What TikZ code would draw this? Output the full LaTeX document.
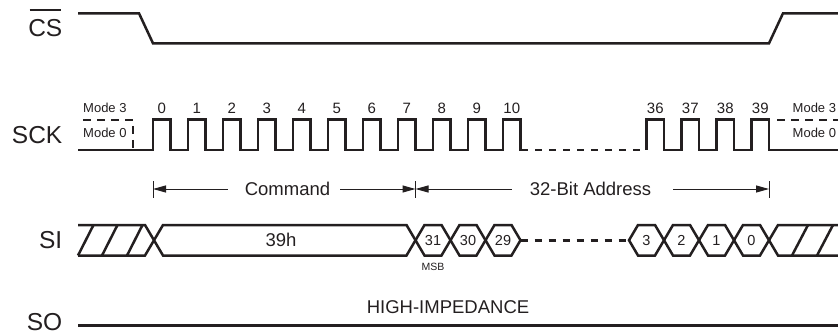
\documentclass[tikz,border=0pt]{standalone}
\usepackage{fontspec}
\setmainfont{Liberation Sans}
\usetikzlibrary{arrows.meta}
\definecolor{ink}{RGB}{35,31,32}
\begin{document}
\begin{tikzpicture}[x=1pt,y=-1pt,
  wave/.style={line width=2.5pt, draw=ink, line join=miter},
  dshw/.style={wave, dash pattern=on 7pt off 7pt},
  dshm/.style={wave, dash pattern=on 8pt off 6pt},
  sig/.style={font=\fontsize{24.5}{26}\selectfont, text=ink, inner sep=0pt, anchor=base east},
  num/.style={font=\fontsize{15}{16}\selectfont, text=ink, inner sep=0pt},
  modelbl/.style={font=\fontsize{13}{14}\selectfont, text=ink, inner sep=0pt, anchor=west},
  mid/.style={font=\fontsize{18.5}{20}\selectfont, text=ink, inner sep=0pt},
  hexlbl/.style={font=\fontsize{14.5}{15}\selectfont, text=ink, inner sep=0pt},
  small/.style={font=\fontsize{10.5}{11}\selectfont, text=ink, inner sep=0pt},
  dim/.style={line width=1pt, draw=ink},
  arr/.style={dim, -{Triangle[length=13pt,width=7pt]}},
]
\useasboundingbox (0,0) rectangle (838,334);

% signal names
\node[sig] (cs) at (62.5,37) {CS};
\draw[line width=1.6pt, ink] ([xshift=1.5pt,yshift=9.5pt]cs.north west) -- ([xshift=-2pt,yshift=9.5pt]cs.north east);
\node[sig] (sck) at (62.5,143) {SCK};
\node[sig] (si) at (62.5,248) {SI};
\node[sig] (so) at (62.5,330) {SO};

% CS waveform
\draw[wave] (78,13.3) -- (139,13.3) -- (153,43.3) -- (769,43.3) -- (783,13.3) -- (838,13.3);

% SCK waveform
\draw[wave] (78,150) \foreach \k in {0,...,10} { -- ({153+35*\k},150) -- ({153+35*\k},119.5) -- ({170.5+35*\k},119.5) -- ({170.5+35*\k},150) } -- (526,150);
\draw[dshw] (521,150) -- (646.5,150);
\draw[wave] (646.5,150) \foreach \k in {0,...,3} { -- ({646.5+35*\k},150) -- ({646.5+35*\k},119.5) -- ({664+35*\k},119.5) -- ({664+35*\k},150) } -- (838,150);
\draw[dshm] (83,120) -- (133,120) -- (133,150);
\draw[dshm] (777,120) -- (838,120);

% clock numbers
\foreach \k in {0,...,10} {\node[num] (n\k) at ({161.75+35*\k},108.5) {\k};}
\foreach \k in {36,...,39} {\node[num] (n\k) at ({655.25+35*(\k-36)},108.5) {\k};}

% mode labels
\node[modelbl] (m3l) at (83,108) {Mode 3};
\node[modelbl] (m0l) at (83,133) {Mode 0};
\node[modelbl] (m3r) at (792.5,107.5) {Mode 3};
\node[modelbl] (m0r) at (792.5,133) {Mode 0};

% dimension row
\coordinate (t0) at (153,189);
\coordinate (t1) at (415.5,189);
\coordinate (t2) at (769,189);
\foreach \t in {t0,t1,t2} {\draw[dim] ([yshift=8pt]\t) -- ([yshift=-8.5pt]\t);}
\node[mid] (cmd) at (287.5,188.5) {Command};
\node[mid] (addr) at (590.5,188.5) {32-Bit Address};
\draw[arr] ([xshift=-17pt]cmd.west |- t0) -- (t0);
\draw[arr] ([xshift=10pt]cmd.east |- t1) -- (t1);
\draw[arr] ([xshift=-18pt]addr.west |- t1) -- (t1);
\draw[arr] ([xshift=22pt]addr.east |- t2) -- (t2);

% SI waveform
\draw[wave] (78,225) -- (145,225) -- (154,240.25) -- (145,255.5) -- (78,255.5);
\draw[wave] (78,255.5) -- (93.5,225) (102,255.5) -- (117.5,225) (127,255.5) -- (142.5,225);
\draw[wave] (154,240.25) -- (163,225) -- (406.5,225) -- (415.5,240.25) -- (406.5,255.5) -- (163,255.5) -- cycle;
\node[mid] (cmdval) at (281,240.25) {39h};
\foreach \xa/\xb/\lab in {415.5/450.5/31, 450.5/485.5/30, 485.5/520.5/29, 629/664/3, 664/699/2, 699/734/1, 734/769/0} {
  \draw[wave] (\xa,240.25) -- (\xa+9,225) -- (\xb-9,225) -- (\xb,240.25) -- (\xb-9,255.5) -- (\xa+9,255.5) -- cycle;
  \node[hexlbl] (b\lab) at ({(\xa+\xb)/2},240.25) {\lab};
}
\draw[dshw] (520.5,240.25) -- (629,240.25);
\draw[wave] (838,225) -- (778,225) -- (769,240.25) -- (778,255.5) -- (838,255.5);
\draw[wave] (792,255.5) -- (808,225) (817,255.5) -- (833,225);
\node[small] (msb) at (433,267) {MSB};

% SO
\node[mid] (hiz) at (448,307) {HIGH-IMPEDANCE};
\draw[line width=3pt, ink] (78,325) -- (838,325);
\end{tikzpicture}
\end{document}
